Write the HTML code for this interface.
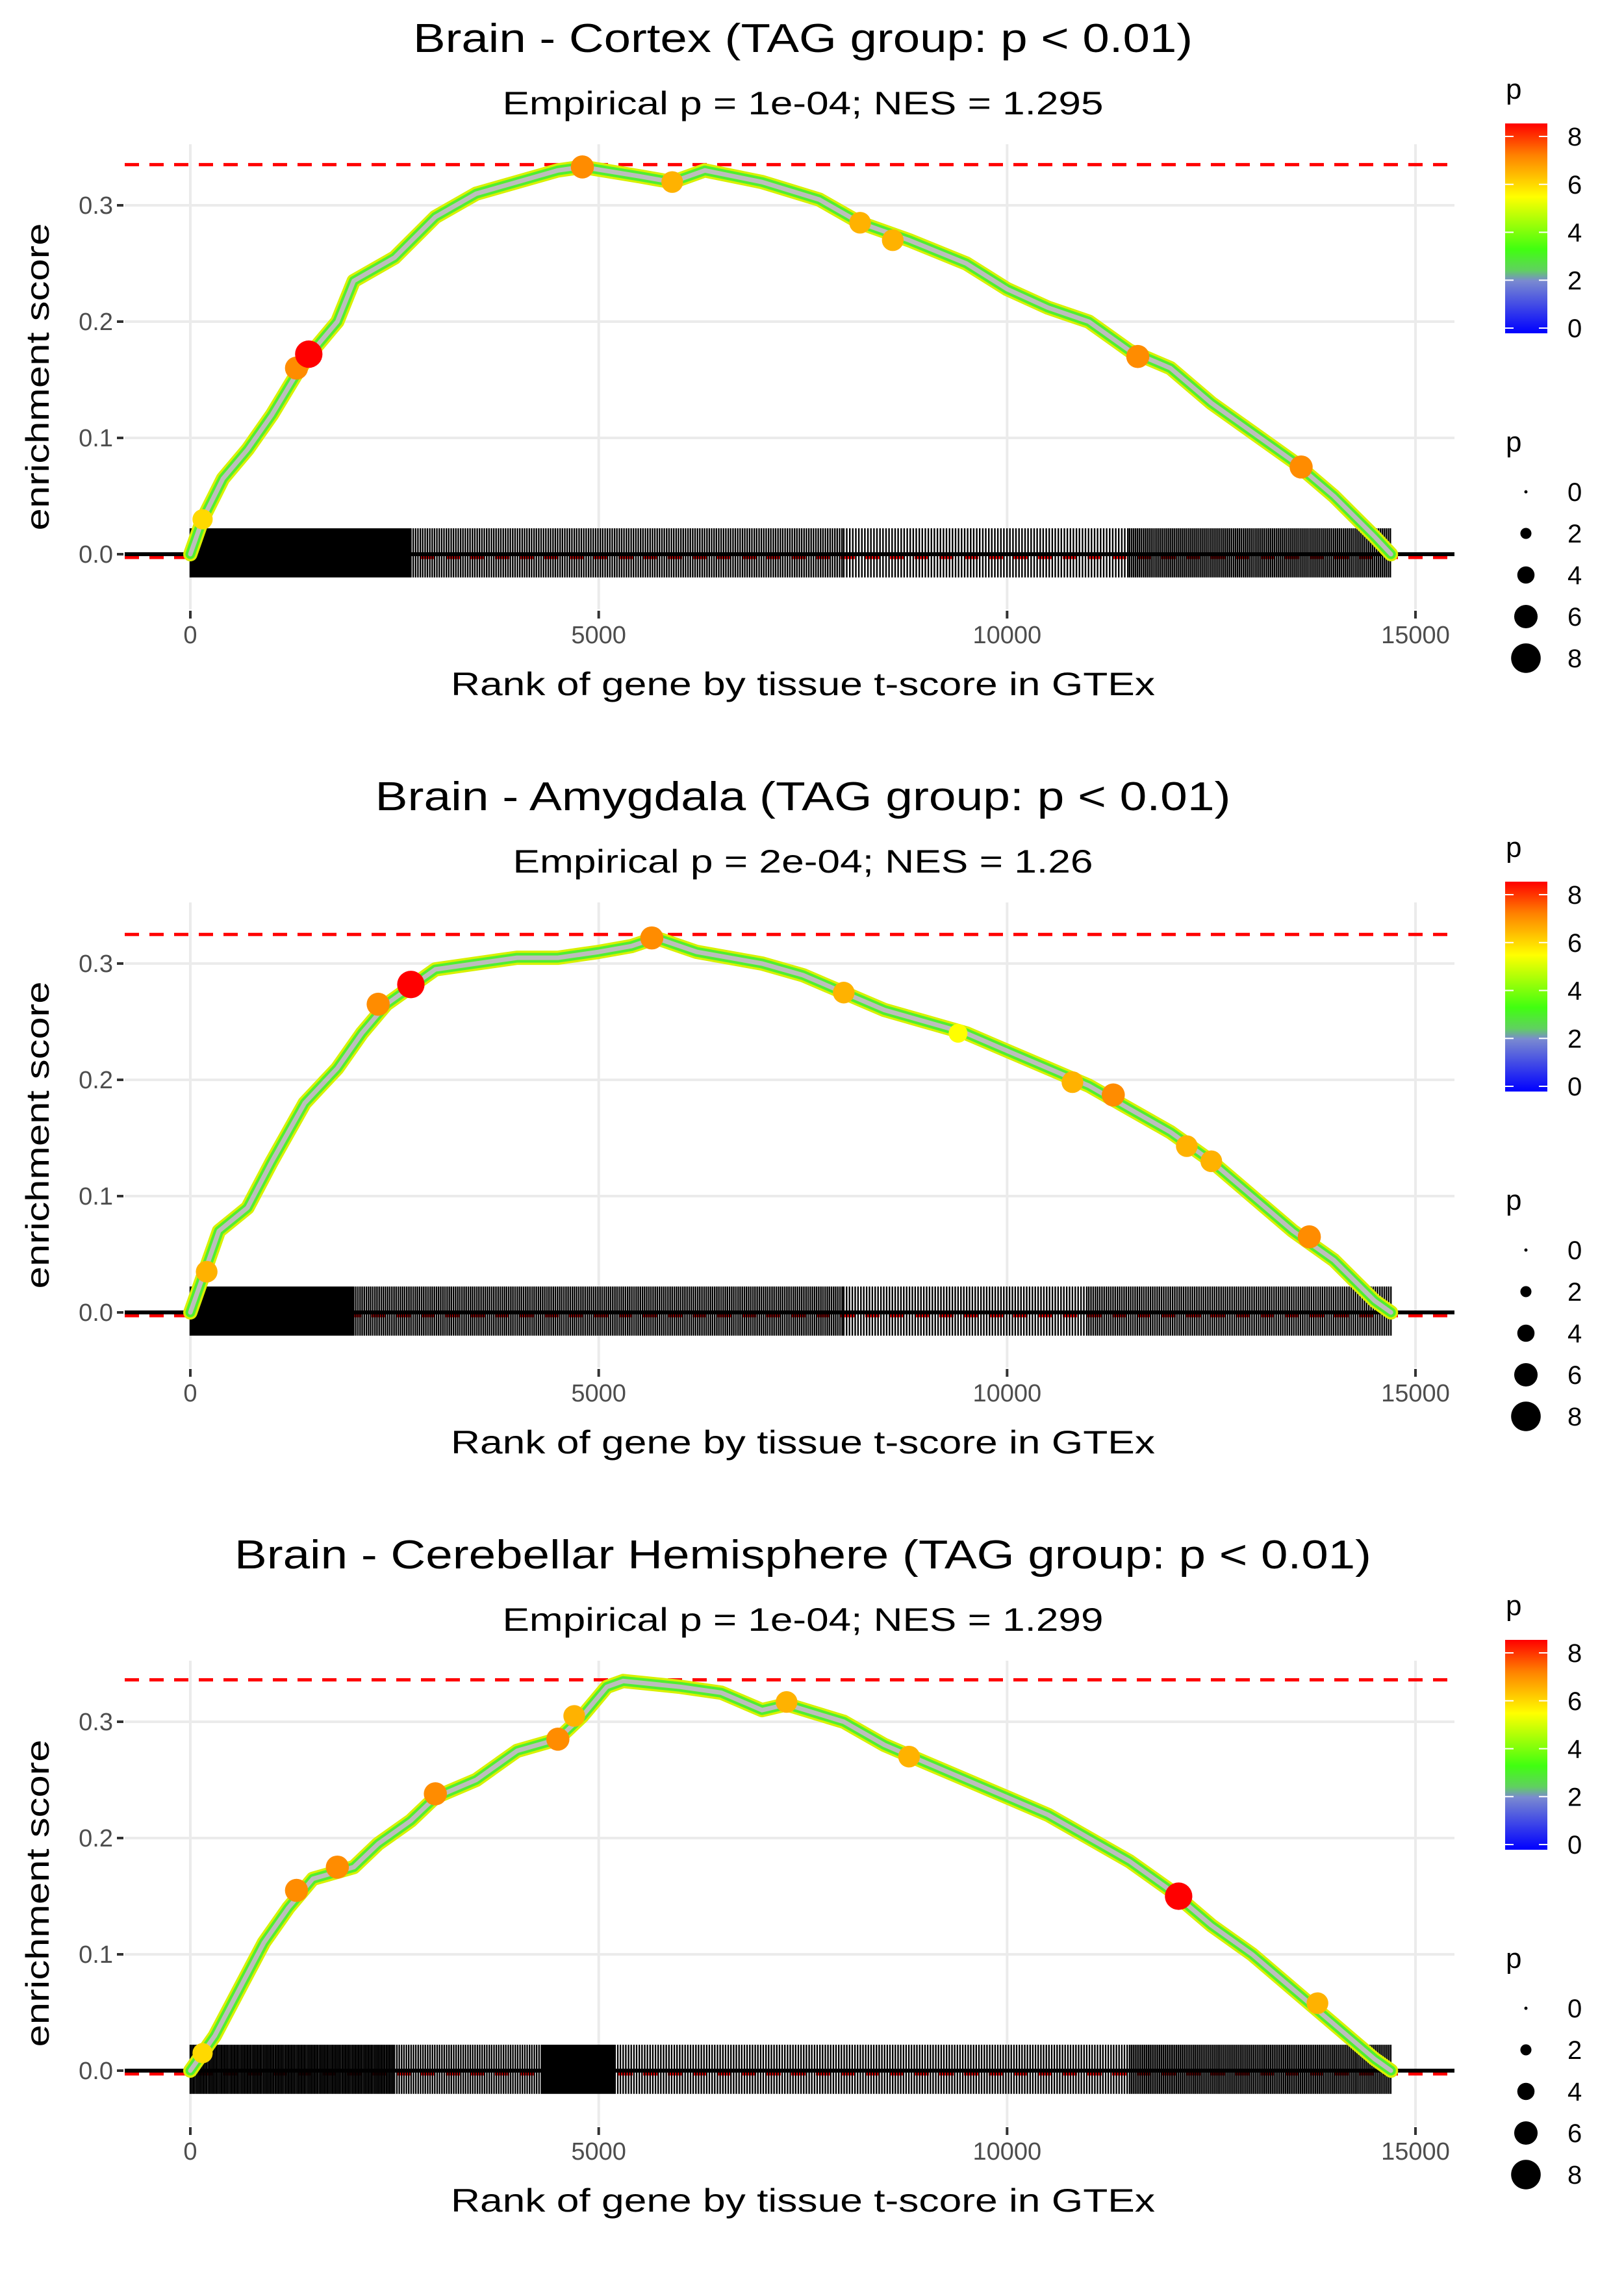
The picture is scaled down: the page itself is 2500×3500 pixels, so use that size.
<!DOCTYPE html>
<html><head><meta charset="utf-8"><style>
html,body{margin:0;padding:0;background:#fff;}
svg{display:block;font-family:"Liberation Sans",sans-serif;}
</style></head><body>
<svg id="chart" width="2500" height="3500" viewBox="0 0 2500 3500" xmlns="http://www.w3.org/2000/svg"></svg>
<script>
const titles = ["Brain - Cortex (TAG group: p < 0.01)","Brain - Amygdala (TAG group: p < 0.01)","Brain - Cerebellar Hemisphere (TAG group: p < 0.01)"];
const subtitles = ["Empirical p = 1e-04; NES = 1.295","Empirical p = 2e-04; NES = 1.26","Empirical p = 1e-04; NES = 1.299"];
const maxES = [0.335, 0.325, 0.336];
const xTicks = [0,5000,10000,15000];
const yTicks = [0,0.1,0.2,0.3];
const yTickLabels = ["0.0","0.1","0.2","0.3"];
const legendTicks = [0,2,4,6,8];
const rank1 = [0,150,400,700,1000,1300,1500,1800,2000,2500,3000,3500,4000,4500,4800,5500,5900,6300,7000,7700,8200,8800,9500,10000,10500,11000,11500,12000,12500,13000,13500,14000,14500,14700];
const es1 = [0,0.03,0.065,0.09,0.12,0.155,0.175,0.2,0.235,0.255,0.29,0.31,0.32,0.33,0.333,0.325,0.32,0.33,0.32,0.305,0.285,0.27,0.25,0.228,0.212,0.2,0.175,0.16,0.13,0.105,0.08,0.05,0.015,0];
const rank2 = [0,150,350,700,1000,1400,1800,2100,2400,2700,3000,3500,4000,4500,5000,5400,5700,6200,7000,7500,8000,8500,9000,9500,10000,10500,11000,11500,12000,12500,13000,13500,14000,14500,14700];
const es2 = [0,0.03,0.07,0.09,0.13,0.18,0.21,0.24,0.265,0.28,0.295,0.3,0.305,0.305,0.31,0.315,0.322,0.31,0.3,0.29,0.275,0.26,0.25,0.24,0.225,0.21,0.195,0.175,0.155,0.13,0.1,0.07,0.045,0.01,0];
const rank3 = [0,300,600,900,1200,1500,2000,2300,2700,3000,3500,4000,4500,4800,5100,5300,6000,6500,7000,7300,8000,8500,9000,9500,10000,10500,11000,11500,12000,12500,13000,13500,14000,14500,14700];
const es3 = [0,0.03,0.07,0.11,0.14,0.165,0.175,0.195,0.215,0.235,0.25,0.275,0.285,0.305,0.33,0.335,0.33,0.325,0.31,0.315,0.3,0.28,0.265,0.25,0.235,0.22,0.2,0.18,0.155,0.125,0.1,0.07,0.04,0.01,0];
const ptRank1 = [1300,1450,4800,5900,8200,8600,11600,13600,150];
const ptES1 = [0.16,0.172,0.333,0.32,0.285,0.27,0.17,0.075,0.03];
const ptP1 = [6.5,8,6.5,6,6,6,6.5,6.5,5.5];
const ptRank2 = [2300,2700,5650,8000,9400,10800,11300,12200,12500,13700,200];
const ptES2 = [0.265,0.282,0.322,0.275,0.24,0.198,0.187,0.143,0.13,0.065,0.035];
const ptP2 = [6.5,8,6.5,6,5,6,6.5,6,6,6.5,6];
const ptRank3 = [1300,1800,3000,4500,4700,7300,8800,12100,13800,150];
const ptES3 = [0.155,0.175,0.238,0.285,0.305,0.317,0.27,0.15,0.058,0.015];
const ptP3 = [6.5,6.5,6.5,6.5,6,6,6,8,6,5.5];
// rug density segments: start rank, end rank, spacing
const rugStart1 = [0,2700,8000,11500], rugEnd1 = [2700,8000,11500,14700], rugStep1 = [19,29,37,24];
const rugStart2 = [0,2000,8000,11000], rugEnd2 = [2000,8000,11000,14700], rugStep2 = [18,26,35,27];
const rugStart3 = [0,2500,4300,5200,11500], rugEnd3 = [2500,4300,5200,11500,14700], rugStep3 = [20,29,16,33,23];

const ranks=[rank1,rank2,rank3], ess=[es1,es2,es3];
const ptR=[ptRank1,ptRank2,ptRank3], ptE=[ptES1,ptES2,ptES3], ptPv=[ptP1,ptP2,ptP3];
const rs=[rugStart1,rugStart2,rugStart3], re=[rugEnd1,rugEnd2,rugEnd3], rst=[rugStep1,rugStep2,rugStep3];

const svg=document.getElementById('chart');
const NS='http://www.w3.org/2000/svg';
function mk(tag,attrs,parent){const e=document.createElementNS(NS,tag);for(const k in attrs)e.setAttribute(k,attrs[k]);(parent||svg).appendChild(e);return e;}
const X0=293, XS=(2179-293)/15000, PL=192, PR=2239;
function pcol(p){const stops=[[0,[0,0,255]],[2,[110,180,110]],[3,[60,255,0]],[5,[255,255,0]],[6.5,[255,140,0]],[8,[255,0,0]]];
 for(let i=0;i<stops.length-1;i++){if(p<=stops[i+1][0]){const t=(p-stops[i][0])/(stops[i+1][0]-stops[i][0]);const a=stops[i][1],b=stops[i+1][1];return 'rgb('+a.map((v,j)=>Math.round(v+(b[j]-v)*t)).join(',')+')';}}return 'rgb(255,0,0)';}
function prad(p){return 3.5+p*2.2;}

for(let k=0;k<3;k++){
 const off=k*1167;
 const Y0=853+off, YS=1790;
 const xs=v=>X0+v*XS, ys=v=>Y0-v*YS;
 const g=mk('g',{});
 
 
 xTicks.forEach(t=>{const l=mk('line',{x1:xs(t),x2:xs(t),y1:222+off,y2:938+off,stroke:'#ebebeb','stroke-width':4},g);
  });
 yTicks.forEach(t=>{const l=mk('line',{x1:PL,x2:PR,y1:ys(t),y2:ys(t),stroke:'#ebebeb','stroke-width':4},g);
  });
 [maxES[k],0].forEach(v=>{const l=mk('line',{x1:PL,x2:PR,y1:ys(v)+(v===0?5:0),y2:ys(v)+(v===0?5:0),stroke:'#ff0000','stroke-width':5,'stroke-dasharray':'22 16'},g);
  });
 let d='';
 for(let s=0;s<rs[k].length;s++){for(let r=rs[k][s];r<re[k][s];r+=rst[k][s]){const x=xs(r).toFixed(1);d+='M'+x+' '+ys(0.0223)+'V'+ys(-0.02);}}
 const rug=mk('path',{d:d,stroke:'#000','stroke-width':2.4,fill:'none'},g);
 
 const zl=mk('line',{x1:PL,x2:PR,y1:Y0,y2:Y0,stroke:'#000','stroke-width':6},g);
 
 const pts=ranks[k].map((r,i)=>xs(r).toFixed(1)+','+ys(ess[k][i]).toFixed(1)).join(' ');
 [['#d8f000',22],['#50ee30',15],['#bdbdbd',7]].forEach(([c,w],j)=>{const pl=mk('polyline',{points:pts,fill:'none',stroke:c,'stroke-width':w,'stroke-linejoin':'round','stroke-linecap':'round'},g);
  });
 ptR[k].forEach((r,i)=>{const c=mk('circle',{cx:xs(r),cy:ys(ptE[k][i]),r:prad(ptPv[k][i]),fill:pcol(ptPv[k][i])},g);
  });
 yTicks.forEach((t,i)=>{mk('line',{x1:180,x2:190,y1:ys(t),y2:ys(t),stroke:'#333','stroke-width':4},g);
  const tx=mk('text',{x:174,y:ys(t)+13,'text-anchor':'end','font-size':38,fill:'#4d4d4d'},g);tx.textContent=yTickLabels[i];
  });
 xTicks.forEach(t=>{mk('line',{x1:xs(t),x2:xs(t),y1:940+off,y2:952+off,stroke:'#333','stroke-width':4},g);
  const tx=mk('text',{x:xs(t),y:990+off,'text-anchor':'middle','font-size':38,fill:'#4d4d4d'},g);tx.textContent=String(t);
  });
 const xt=mk('text',{x:1236,y:1070+off,'text-anchor':'middle','font-size':50,fill:'#000',textLength:1084,lengthAdjust:'spacingAndGlyphs'},g);
 xt.textContent='Rank of gene by tissue t-score in GTEx';
 const yt=mk('text',{x:0,y:0,'text-anchor':'middle','font-size':50,fill:'#000',transform:'translate(75,'+(580+off)+') rotate(-90)',textLength:473,lengthAdjust:'spacingAndGlyphs'},g);
 yt.textContent='enrichment score';
 const tt=mk('text',{x:1236,y:80+off,'text-anchor':'middle','font-size':62,fill:'#000',textLength:(k===0?1200:k===1?1317:1750),lengthAdjust:'spacingAndGlyphs'},g);
 tt.textContent=titles[k];
 const st=mk('text',{x:1236,y:176+off,'text-anchor':'middle','font-size':50,fill:'#000',textLength:(k===1?893:925),lengthAdjust:'spacingAndGlyphs'},g);
 st.textContent=subtitles[k];
 const gid='grad'+k;
 const defs=mk('defs',{},g);const lg=mk('linearGradient',{id:gid,x1:0,y1:1,x2:0,y2:0},defs);
 [[0,'#0000ff'],[0.25,'#7a8ad0'],[0.3,'#60d060'],[0.4,'#40ff10'],[0.65,'#ffff00'],[0.85,'#ff8000'],[1,'#ff0000']].forEach(([o,c])=>mk('stop',{offset:o,'stop-color':c},lg));
 const lt=mk('text',{x:2318,y:152+off,'font-size':44,fill:'#000'},g);lt.textContent='p';
 
 const bar=mk('rect',{x:2317,y:190+off,width:65,height:323,fill:'url(#'+gid+')'},g);
 
 legendTicks.forEach(t=>{const y=505+off-t*(295/8);
  mk('line',{x1:2317,x2:2330,y1:y,y2:y,stroke:'#fff','stroke-width':2},g);mk('line',{x1:2369,x2:2382,y1:y,y2:y,stroke:'#fff','stroke-width':2},g);
  const tx=mk('text',{x:2413,y:y+14,'font-size':40,fill:'#000'},g);tx.textContent=String(t);
  });
 const sl=mk('text',{x:2318,y:695+off,'font-size':44,fill:'#000'},g);sl.textContent='p';
 
 legendTicks.forEach((t,i)=>{const y=757+off+i*64;
  const c=mk('circle',{cx:2349,cy:y,r:prad(t)*(t===0?0.7:1.08),fill:'#000'},g);
  const tx=mk('text',{x:2413,y:y+14,'font-size':40,fill:'#000'},g);tx.textContent=String(t);
  });
}
</script>
</body></html>
